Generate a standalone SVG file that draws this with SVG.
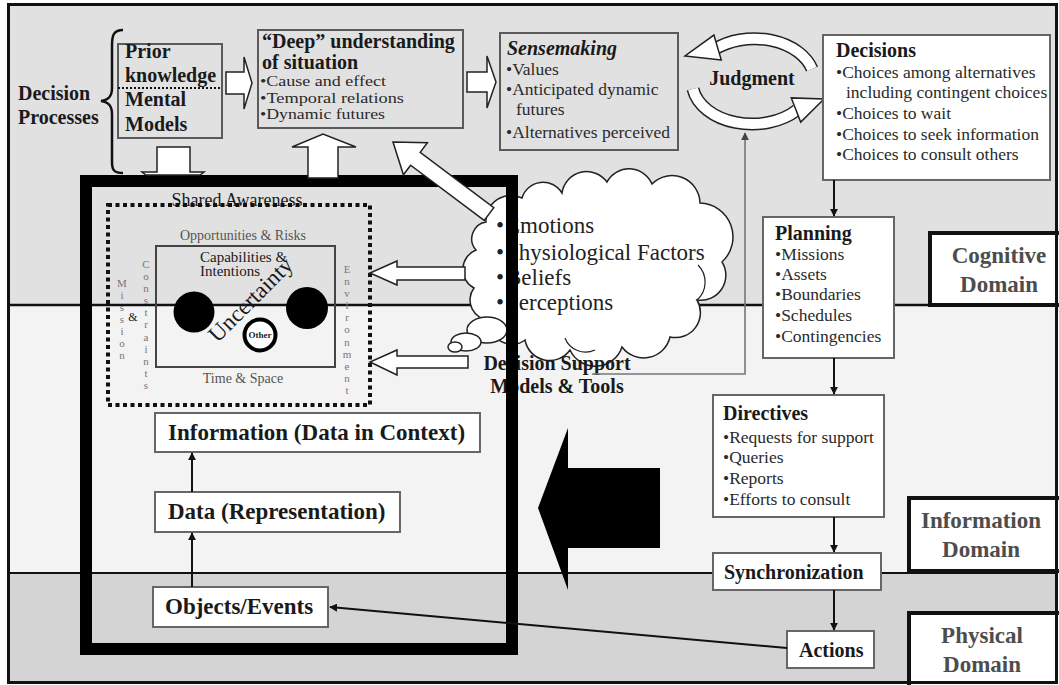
<svg xmlns="http://www.w3.org/2000/svg" width="1059" height="685" viewBox="0 0 1059 685">
<defs>
<style>
text{font-family:"Liberation Serif","Times New Roman",serif;fill:#1a1a1a}
.t20{font-size:20px;font-weight:bold}
.t23{font-size:23px;font-weight:bold}
.bul{font-size:17.5px;fill:#2a2a2a;font-weight:normal}
.bs{font-size:15px;fill:#2a2a2a;font-weight:normal}
.dom{font-size:23px;font-weight:bold;fill:#4d4d4d;text-anchor:middle}
.gbox{fill:none;stroke:#5a5a5a;stroke-width:2}
.wbox{fill:#fff;stroke:#666;stroke-width:2}
.blk{fill:#fff;stroke:#222;stroke-width:1.5;stroke-linejoin:miter}
.con{fill:none;stroke:#111;stroke-width:2}
.sa{fill:#555;font-size:14px;text-anchor:middle}
.vt{fill:#777;font-size:11px;writing-mode:vertical-rl;text-orientation:upright}
.ct{font-size:23px;fill:#222}
.band{fill:none;stroke:#222;stroke-width:13}
.bandin{fill:none;stroke:#fff;stroke-width:10}
</style>
<marker id="ah" viewBox="0 0 10 10" refX="9" refY="5" markerWidth="4" markerHeight="4" orient="auto"><path d="M0 0 L10 5 L0 10 z" fill="#111"/></marker>
<marker id="ahg" viewBox="0 0 10 10" refX="9" refY="5" markerWidth="5" markerHeight="5" orient="auto"><path d="M0 0 L10 5 L0 10 z" fill="#444"/></marker>
</defs>

<!-- domain bands -->
<g id="bands">
<rect x="0" y="0" width="1059" height="685" fill="#fff"/>
<rect x="8" y="5" width="1049" height="300" fill="#e1e1e1"/>
<rect x="8" y="305" width="1049" height="268" fill="#f3f3f3"/>
<rect x="8" y="573" width="1049" height="110" fill="#d4d4d4"/>
<line x1="8" y1="305" x2="1057" y2="305" stroke="#111" stroke-width="2.5"/>
<line x1="8" y1="573" x2="1057" y2="573" stroke="#111" stroke-width="2"/>
</g>

<g id="cognitive-domain">
<rect x="930" y="233" width="140" height="72" fill="#fff" stroke="#111" stroke-width="4"/>
<text class="dom"><tspan x="999" y="263">Cognitive</tspan><tspan x="999" y="292">Domain</tspan></text>
</g>
<g id="information-domain">
<rect x="909" y="498" width="160" height="73" fill="#fff" stroke="#111" stroke-width="4"/>
<text class="dom"><tspan x="981" y="528">Information</tspan><tspan x="981" y="557">Domain</tspan></text>
</g>
<g id="physical-domain">
<rect x="909" y="613" width="160" height="80" fill="#fff" stroke="#111" stroke-width="4"/>
<text class="dom"><tspan x="982" y="643">Physical</tspan><tspan x="982" y="672">Domain</tspan></text>
</g>

<rect x="8.5" y="4.5" width="1048" height="678" fill="none" stroke="#111" stroke-width="3"/>

<g id="decision-processes">
<text class="t20"><tspan x="18" y="100">Decision</tspan><tspan x="18" y="124">Processes</tspan></text>
<path d="M123 30 C113 30 112 36 112 46 L112 88 C112 96 109 100 101 101 C109 102 112 106 112 114 L112 162 C112 170 114 173 123 173" fill="none" stroke="#111" stroke-width="2.5"/>
</g>

<g id="prior-knowledge">
<rect class="gbox" x="118" y="44" width="104" height="94"/>
<line x1="118" y1="88" x2="222" y2="88" stroke="#111" stroke-width="2" stroke-dasharray="2 2"/>
<text class="t20"><tspan x="125" y="58">Prior</tspan><tspan x="125" y="82">knowledge</tspan><tspan x="125" y="106">Mental</tspan><tspan x="125" y="131">Models</tspan></text>
</g>

<g id="deep-understanding">
<rect class="gbox" x="258" y="30" width="205" height="98"/>
<text class="t20" font-size="19"><tspan x="262" y="48">“Deep” understanding</tspan><tspan x="262" y="69">of situation</tspan></text>
<text class="bs" x="260" y="86" textLength="126" lengthAdjust="spacingAndGlyphs">•Cause and effect</text>
<text class="bs" x="260" y="102.5" textLength="144" lengthAdjust="spacingAndGlyphs">•Temporal relations</text>
<text class="bs" x="260" y="119" textLength="125" lengthAdjust="spacingAndGlyphs">•Dynamic futures</text>
</g>

<g id="sensemaking">
<rect class="gbox" x="500" y="33" width="178" height="117"/>
<text class="t20"><tspan font-style="italic" x="507" y="55">Sensemaking</tspan><tspan class="bul" x="506" y="75">•Values</tspan><tspan class="bul" x="506" y="95">•Anticipated dynamic</tspan><tspan class="bul" x="516" y="115">futures</tspan><tspan class="bul" x="506" y="138">•Alternatives perceived</tspan></text>
</g>

<g id="judgment">
<path class="band" d="M812 69 A60 42 0 0 0 715 49"/>
<path class="bandin" d="M812 69 A60 42 0 0 0 715 49"/>
<polygon class="blk" points="721.3,60.1 685,56 713.9,35.1"/>
<path class="band" d="M693 89 A60 42 0 0 0 797 110"/>
<path class="bandin" d="M693 89 A60 42 0 0 0 797 110"/>
<polygon class="blk" points="800.7,122.1 824,99 791.3,97.9"/>
<text class="t20" x="752" y="85" text-anchor="middle">Judgment</text>
</g>

<g id="decisions">
<rect class="wbox" x="823" y="35" width="227" height="145"/>
<text class="t20"><tspan x="836" y="57">Decisions</tspan><tspan class="bul" x="836" y="78">•Choices among alternatives</tspan><tspan class="bul" x="846" y="98">including contingent choices</tspan><tspan class="bul" x="836" y="119">•Choices to wait</tspan><tspan class="bul" x="836" y="140">•Choices to seek information</tspan><tspan class="bul" x="836" y="160">•Choices to consult others</tspan></text>
</g>

<g id="shared-awareness">
<text x="237" y="206" text-anchor="middle" font-size="18" fill="#888">Shared Awareness</text>
<rect x="108" y="205" width="262" height="200" fill="none" stroke="#111" stroke-width="4" stroke-dasharray="4 3.5"/>
<text class="sa" x="243" y="240">Opportunities &amp; Risks</text>
<rect x="156" y="246" width="179" height="121" fill="none" stroke="#444" stroke-width="2"/>
<text font-size="15" fill="#555"><tspan x="200" y="262">Capabilities &amp;</tspan><tspan x="200" y="276">Intentions</tspan></text>
<text transform="rotate(-45 256 305)" x="256" y="305" text-anchor="middle" font-size="23" fill="#666">Uncertainty</text>
<circle cx="194" cy="312" r="20.5" fill="#000"/>
<circle cx="307" cy="308" r="21" fill="#000"/>
<circle cx="260" cy="335" r="15.5" fill="#fff" stroke="#000" stroke-width="4"/>
<text x="260" y="338" text-anchor="middle" font-size="9" font-weight="bold">Other</text>
<text class="sa" x="243" y="383">Time &amp; Space</text>
<text class="vt" x="122" y="276.5">Mission</text>
<text x="133" y="321" font-size="12" fill="#777" text-anchor="middle">&amp;</text>
<text class="vt" x="146" y="257.5" letter-spacing="0.2">Constraints</text>
<text class="vt" x="347" y="262.5" letter-spacing="0.2">Environment</text>
</g>

<g id="influences-cloud">
<path d="M486 222 A25 25 0 0 1 522 198 A22 22 0 0 1 562 193 A25 25 0 0 1 607 182 A25 25 0 0 1 652 184 A28 28 0 0 1 700 203 A34 34 0 0 1 722 262 A25 25 0 0 1 697 300 A25 25 0 0 1 670 337 A27 27 0 0 1 622 347 A28 28 0 0 1 570 350 A25 25 0 0 1 525 340 A22 22 0 0 1 490 320 A20 20 0 0 1 474 288 A21 21 0 0 1 476 250 A17 17 0 0 1 486 222 Z" fill="#fff" stroke="#222" stroke-width="1.5"/>
<path d="M698 265 A24 24 0 0 1 697 300" fill="none" stroke="#222" stroke-width="1.2"/>
<path d="M565 338 A22 22 0 0 0 595 350" fill="none" stroke="#222" stroke-width="1.2"/>
<ellipse cx="487" cy="330" rx="20" ry="13" fill="#fff" stroke="#222" stroke-width="1.5"/>
<ellipse cx="466" cy="342" rx="15" ry="9" fill="#fff" stroke="#222" stroke-width="1.5"/>
<ellipse cx="455" cy="347" rx="7" ry="5" fill="#fff" stroke="#222" stroke-width="1.5"/>
<text class="ct"><tspan x="496" y="233">•</tspan><tspan x="506">Emotions</tspan><tspan x="496" y="260">•</tspan><tspan x="506">Physiological Factors</tspan><tspan x="496" y="285">•</tspan><tspan x="506">Beliefs</tspan><tspan x="496" y="310">•</tspan><tspan x="506">Perceptions</tspan></text>
</g>

<g id="decision-support">
<text class="t20" text-anchor="middle"><tspan x="557" y="370">Decision Support</tspan><tspan x="557" y="393">Models &amp; Tools</tspan></text>
</g>

<g id="awareness-frame">
<rect x="86" y="181" width="426" height="468" fill="none" stroke="#000" stroke-width="12"/>
</g>

<g id="information">
<rect class="wbox" x="155" y="413" width="325" height="39"/>
<text class="t23" x="168" y="440">Information (Data in Context)</text>
</g>
<g id="data">
<rect class="wbox" x="155" y="492" width="245" height="40"/>
<text class="t23" x="168" y="519">Data (Representation)</text>
</g>
<g id="objects-events">
<rect class="wbox" x="153" y="587" width="175" height="40"/>
<text class="t23" x="165" y="614">Objects/Events</text>
</g>

<g id="planning">
<rect class="wbox" x="763" y="217" width="131" height="141"/>
<text class="t20"><tspan x="775" y="240">Planning</tspan><tspan class="bul" x="775" y="260">•Missions</tspan><tspan class="bul" x="775" y="280">•Assets</tspan><tspan class="bul" x="775" y="300">•Boundaries</tspan><tspan class="bul" x="775" y="321">•Schedules</tspan><tspan class="bul" x="775" y="342">•Contingencies</tspan></text>
</g>
<g id="directives">
<rect class="wbox" x="713" y="395" width="171" height="122"/>
<text class="t20"><tspan x="723" y="420">Directives</tspan><tspan class="bul" x="723" y="443">•Requests for support</tspan><tspan class="bul" x="723" y="463">•Queries</tspan><tspan class="bul" x="723" y="484">•Reports</tspan><tspan class="bul" x="723" y="505">•Efforts to consult</tspan></text>
</g>
<g id="synchronization">
<rect class="wbox" x="713" y="553" width="168" height="37"/>
<text class="t20" x="724" y="579">Synchronization</text>
</g>
<g id="actions">
<rect class="wbox" x="787" y="631" width="87" height="37"/>
<text class="t20" x="799" y="657">Actions</text>
</g>

<g id="flow-arrow">
<polygon points="538,508 568,428 568,468 660,468 660,548 568,548 568,590" fill="#000"/>
</g>

<g id="connectors">
<polygon class="blk" points="226,72 244,72 244,57 252,83 244,109 244,94 226,94"/>
<polygon class="blk" points="467,72 487,72 487,56 496,82 487,108 487,92 467,92"/>
<polygon class="blk" points="157,147 190,147 190,172 204,172 200,175 146,175 142,172 157,172"/>
<polygon class="blk" points="308,178 308,147 292,147 323,134 356,147 338,147 338,178"/>
<polygon class="blk" points="393,142 427.4,142.8 420.2,152.4 493.8,207.6 484.2,220.4 410.6,165.2 403.4,174.8"/>
<polygon class="blk" points="465,267 397,267 397,261 370,273 397,285 397,280 465,280"/>
<polygon class="blk" points="468,356 397,356 397,350 370,362 397,375 397,368 468,368"/>
<line class="con" x1="834" y1="180" x2="834" y2="216" marker-end="url(#ah)"/>
<line class="con" x1="834" y1="358" x2="834" y2="394" marker-end="url(#ah)"/>
<line class="con" x1="834" y1="517" x2="834" y2="552" marker-end="url(#ah)"/>
<line class="con" x1="834" y1="590" x2="834" y2="630" marker-end="url(#ah)"/>
<line class="con" x1="787" y1="648" x2="330" y2="607" marker-end="url(#ah)"/>
<line class="con" x1="192" y1="587" x2="192" y2="533" marker-end="url(#ah)"/>
<line class="con" x1="192" y1="492" x2="192" y2="453" marker-end="url(#ah)"/>
<polyline points="592,374 745,374 745,133" fill="none" stroke="#777" stroke-width="1.6" marker-end="url(#ahg)"/>
</g>
</svg>
